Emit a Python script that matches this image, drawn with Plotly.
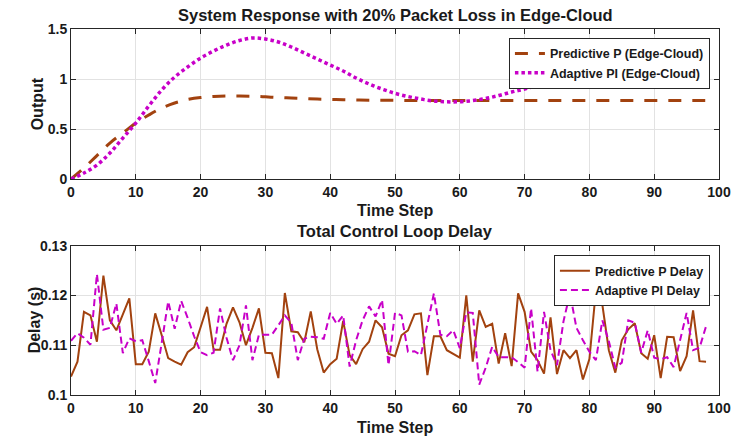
import plotly.graph_objects as go

# ---- Top plot: system response ----
t_top = [0, 2, 4, 6, 8, 10, 12, 14, 16, 18, 20, 22, 24, 26, 28, 30, 32, 34, 36, 38, 40,
         42, 44, 46, 48, 50, 52, 54, 56, 58, 60, 62, 64, 66, 68, 70, 72, 74, 76, 78, 80,
         82, 84, 86, 88, 90, 92, 94, 96, 98]
pred_out = [0.0, 0.11, 0.235, 0.36, 0.46, 0.56, 0.64, 0.71, 0.76, 0.795, 0.815, 0.825, 0.83, 0.83,
            0.828, 0.822, 0.815, 0.81, 0.805, 0.80, 0.797, 0.793, 0.791, 0.789, 0.788, 0.787,
            0.786, 0.786, 0.786, 0.786, 0.786, 0.786, 0.786, 0.786, 0.786, 0.786, 0.786, 0.786,
            0.786, 0.786, 0.786, 0.786, 0.786, 0.786, 0.786, 0.786, 0.786, 0.786, 0.786, 0.786]
adapt_out = [0.0, 0.06, 0.14, 0.26, 0.41, 0.56, 0.73, 0.89, 1.02, 1.12, 1.21, 1.28, 1.34, 1.385,
             1.41, 1.40, 1.37, 1.32, 1.26, 1.20, 1.14, 1.08, 1.01, 0.95, 0.90, 0.857, 0.825,
             0.80, 0.78, 0.772, 0.773, 0.785, 0.805, 0.835, 0.87, 0.90, 0.935, 0.965, 0.99,
             1.02, 1.04, 1.06, 1.08, 1.09, 1.092, 1.09, 1.085, 1.078, 1.07, 1.06]

# ---- Bottom plot: delays ----
t_delay = list(range(99))
pred_delay = [0.1037, 0.1067, 0.1167, 0.1160, 0.1107, 0.1240, 0.1150, 0.1130, 0.1162, 0.1194,
              0.1062, 0.1062, 0.1087, 0.1164, 0.1120, 0.1074, 0.1067, 0.1061, 0.1086, 0.1096,
              0.1136, 0.1177, 0.1091, 0.1091, 0.1143, 0.1176, 0.1146, 0.1100, 0.1135, 0.1174,
              0.1085, 0.1084, 0.1034, 0.1205, 0.1128, 0.1126, 0.1106, 0.1168, 0.1092, 0.1045,
              0.1062, 0.1073, 0.1149, 0.1080, 0.1062, 0.1092, 0.1107, 0.1150, 0.1136, 0.1083,
              0.1078, 0.1120, 0.1130, 0.1162, 0.1164, 0.1040, 0.1118, 0.1118, 0.1090, 0.1083,
              0.1075, 0.1200, 0.1067, 0.1170, 0.1137, 0.1143, 0.1063, 0.1124, 0.1058, 0.1204,
              0.1167, 0.1087, 0.1070, 0.1043, 0.1156, 0.1042, 0.1090, 0.1074, 0.1090, 0.1031,
              0.1072, 0.1210, 0.1181, 0.1090, 0.1045, 0.1110, 0.1132, 0.1144, 0.1084, 0.1073,
              0.1120, 0.1034, 0.1117, 0.1116, 0.1048, 0.1078, 0.1170, 0.1068, 0.1067]
adapt_delay = [0.1109, 0.1124, 0.1115, 0.1101, 0.1243, 0.1131, 0.1135, 0.1184, 0.1084, 0.1114,
               0.1108, 0.1110, 0.1068, 0.1024, 0.1105, 0.1188, 0.1133, 0.1189, 0.1155, 0.1118,
               0.1086, 0.1080, 0.1085, 0.1174, 0.1115, 0.1070, 0.1100, 0.1180, 0.1070, 0.1121,
               0.1121, 0.1121, 0.1140, 0.1160, 0.1145, 0.1070, 0.1113, 0.1117, 0.1116, 0.1113,
               0.1165, 0.1143, 0.1160, 0.1057, 0.1110, 0.1150, 0.1178, 0.1158, 0.1191, 0.1060,
               0.1165, 0.1160, 0.1087, 0.1088, 0.1080, 0.1140, 0.1204, 0.1121, 0.1118, 0.1130,
               0.1094, 0.1166, 0.1165, 0.1021, 0.1055, 0.1097, 0.1076, 0.1076, 0.1076, 0.1066,
               0.1055, 0.1174, 0.1047, 0.1167, 0.1090, 0.1060, 0.1148, 0.1204, 0.1135, 0.1110,
               0.1087, 0.1070, 0.1150, 0.1108, 0.1055, 0.1065, 0.1150, 0.1145, 0.1085, 0.1130,
               0.1075, 0.1072, 0.1076, 0.1056, 0.1110, 0.1165, 0.1090, 0.1095, 0.1138]

x_ticks = [0, 10, 20, 30, 40, 50, 60, 70, 80, 90, 100]
y_ticks_top = [0, 0.5, 1, 1.5]
y_ticks_top_text = ["0", "0.5", "1", "1.5"]
y_ticks_bot = [0.1, 0.11, 0.12, 0.13]
y_ticks_bot_text = ["0.1", "0.11", "0.12", "0.13"]

BROWN = "#A2420F"
MAGENTA = "#C800C8"
FONT = "Liberation Sans"
TXT = "#1a1a1a"

fig = go.Figure()
fig.add_trace(go.Scatter(x=t_top, y=pred_out, mode="lines", name="Predictive P (Edge-Cloud)",
                         line=dict(color=BROWN, width=3, dash="13px,11px", shape="spline"),
                         xaxis="x", yaxis="y", legend="legend"))
fig.add_trace(go.Scatter(x=t_top, y=adapt_out, mode="lines", name="Adaptive PI (Edge-Cloud)",
                         line=dict(color=MAGENTA, width=3.5, dash="3.5px,3px", shape="spline"),
                         xaxis="x", yaxis="y", legend="legend"))
fig.add_trace(go.Scatter(x=t_delay, y=pred_delay, mode="lines", name="Predictive P Delay",
                         line=dict(color=BROWN, width=2),
                         xaxis="x2", yaxis="y2", legend="legend2"))
fig.add_trace(go.Scatter(x=t_delay, y=adapt_delay, mode="lines", name="Adaptive PI Delay",
                         line=dict(color=MAGENTA, width=2, dash="7px,4px"),
                         xaxis="x2", yaxis="y2", legend="legend2"))

axis_common = dict(showline=True, linecolor="#262626", linewidth=1, mirror="ticks",
                   ticks="inside", ticklen=5, tickcolor="#262626",
                   showgrid=True, gridcolor="#E2E2E2", gridwidth=1, zeroline=False,
                   ticklabeloverflow="allow",
                   tickfont=dict(family=FONT, size=14, color=TXT, weight="bold"))

legend_common = dict(font=dict(family=FONT, size=12.5, color=TXT, weight="bold"), bgcolor="white",
                     bordercolor="#262626", borderwidth=1, xanchor="right", yanchor="top",
                     tracegroupgap=0, itemwidth=30)

title_font = dict(family=FONT, size=16.5, color=TXT, weight="bold")
label_font = dict(family=FONT, size=16, color=TXT, weight="bold")

fig.update_layout(
    width=742, height=439,
    margin=dict(l=71, r=11, t=29, b=44),
    paper_bgcolor="white", plot_bgcolor="white",
    showlegend=True,
    xaxis=dict(domain=[0, 1], range=[0, 100], tickvals=x_ticks, anchor="y", **axis_common),
    yaxis=dict(domain=[0.59, 1], range=[0, 1.5], tickvals=y_ticks_top, ticktext=y_ticks_top_text,
               anchor="x", **axis_common),
    xaxis2=dict(domain=[0, 1], range=[0, 100], tickvals=x_ticks, anchor="y2", **axis_common),
    yaxis2=dict(domain=[0, 0.408], range=[0.1, 0.13], tickvals=y_ticks_bot, ticktext=y_ticks_bot_text,
                anchor="x2", **axis_common),
    legend=dict(x=0.986, y=0.976, **legend_common),
    legend2=dict(x=0.986, y=0.382, **legend_common),
    annotations=[
        dict(text="System Response with 20% Packet Loss in Edge-Cloud", xref="paper", yref="paper",
             x=0.5, y=1.009, xanchor="center", yanchor="bottom", showarrow=False, font=title_font),
        dict(text="Total Control Loop Delay", xref="paper", yref="paper",
             x=0.5, y=0.418, xanchor="center", yanchor="bottom", showarrow=False, font=title_font),
        dict(text="Time Step", xref="paper", yref="paper",
             x=0.5, y=0.503, xanchor="center", yanchor="middle", showarrow=False, font=label_font),
        dict(text="Time Step", xref="paper", yref="paper",
             x=0.5, y=-0.089, xanchor="center", yanchor="middle", showarrow=False, font=label_font),
        dict(text="Output", xref="paper", yref="paper", textangle=-90,
             x=-0.052, y=0.795, xanchor="center", yanchor="middle", showarrow=False, font=label_font),
        dict(text="Delay (s)", xref="paper", yref="paper", textangle=-90,
             x=-0.055, y=0.205, xanchor="center", yanchor="middle", showarrow=False, font=label_font),
    ],
)

fig.write_html("out.html")
